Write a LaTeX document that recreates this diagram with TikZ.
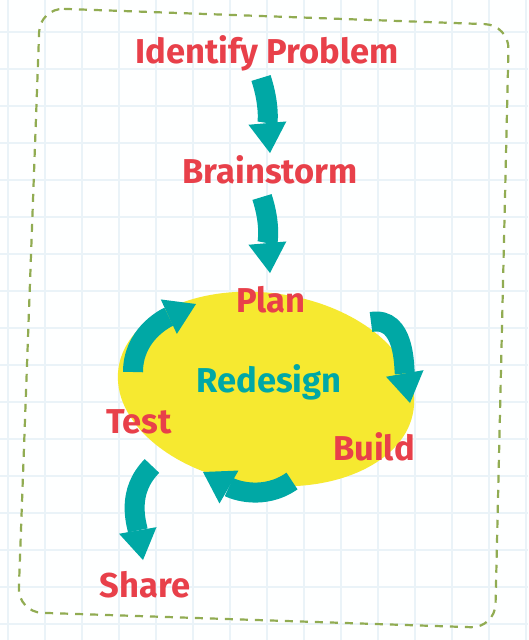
\documentclass[tikz,border=0pt]{standalone}
\usepackage{fontspec}
\setmainfont{Fira Sans}
\usepackage{tikz}
\usetikzlibrary{calc,positioning,shapes.geometric,arrows.meta}
\definecolor{stepred}{RGB}{232,64,74}
\definecolor{loopteal}{RGB}{0,168,165}
\definecolor{blobyellow}{RGB}{246,233,48}
\definecolor{bordergreen}{RGB}{145,172,82}
\definecolor{gridblue}{RGB}{234,243,248}

\begin{document}
\begin{tikzpicture}[x=1pt,y=1pt,
  stage/.style={anchor=base,inner sep=0pt,text=stepred,font=\fontsize{34.5}{38}\selectfont\bfseries},
  flow/.style={draw=loopteal,line width=20pt,-{Triangle[length=30pt,width=38pt,line width=0pt]}}]
\useasboundingbox (0,0) rectangle (528,-640);
\fill[white!97!gridblue] (0,0) rectangle (528,-640);
\begin{scope}[shift={(8,5)}]
\draw[gridblue,line width=1.2pt,step=37] (-8,-645) grid (520,-5);
\end{scope}
\draw[bordergreen,line width=2.2pt,dash pattern=on 8pt off 7pt,rounded corners=24pt]
  (40,-8) -- (509,-25) -- (495,-628) -- (18,-612) -- cycle;
\node[ellipse,fill=blobyellow,minimum width=298pt,minimum height=192pt,rotate=-8] (blob) at (266,-389) {};

\node[stage] (ident) at (267,-63) {Identify Problem};
\node[stage] (brain) at (270,-183) {Brainstorm};
\node[stage] (plan) at (271,-312) {Plan};
\node[stage,text=loopteal] (redesign) at (269,-392) {Redesign};
\node[stage] (test) at (139,-433) {Test};
\node[stage] (build) at (374,-460) {Build};
\node[stage] (share) at (145,-597) {Share};

\draw[flow] ($(ident.base)+(-6,-15)$) to[out=-72,in=95] ($(brain.base)+(0,30)$);
\draw[flow] ($(brain.base)+(-8,-14)$) to[out=-72,in=95] ($(plan.base)+(-1,39)$);
\draw[flow] ($(plan.base)+(100,-10)$) to[out=10,in=100] ($(build.base)+(36,57)$);
\draw[flow] ($(build.base)+(-82,-21)$) to[out=215,in=-30] ($(test.base)+(64,-39)$);
\draw[flow] ($(test.base)+(-6,61)$) to[out=90,in=205] ($(plan.base)+(-75,8)$);
\draw[flow] ($(test.base)+(13,-33)$) to[out=225,in=100] ($(share.base)+(-2,37)$);
\end{tikzpicture}
\end{document}
